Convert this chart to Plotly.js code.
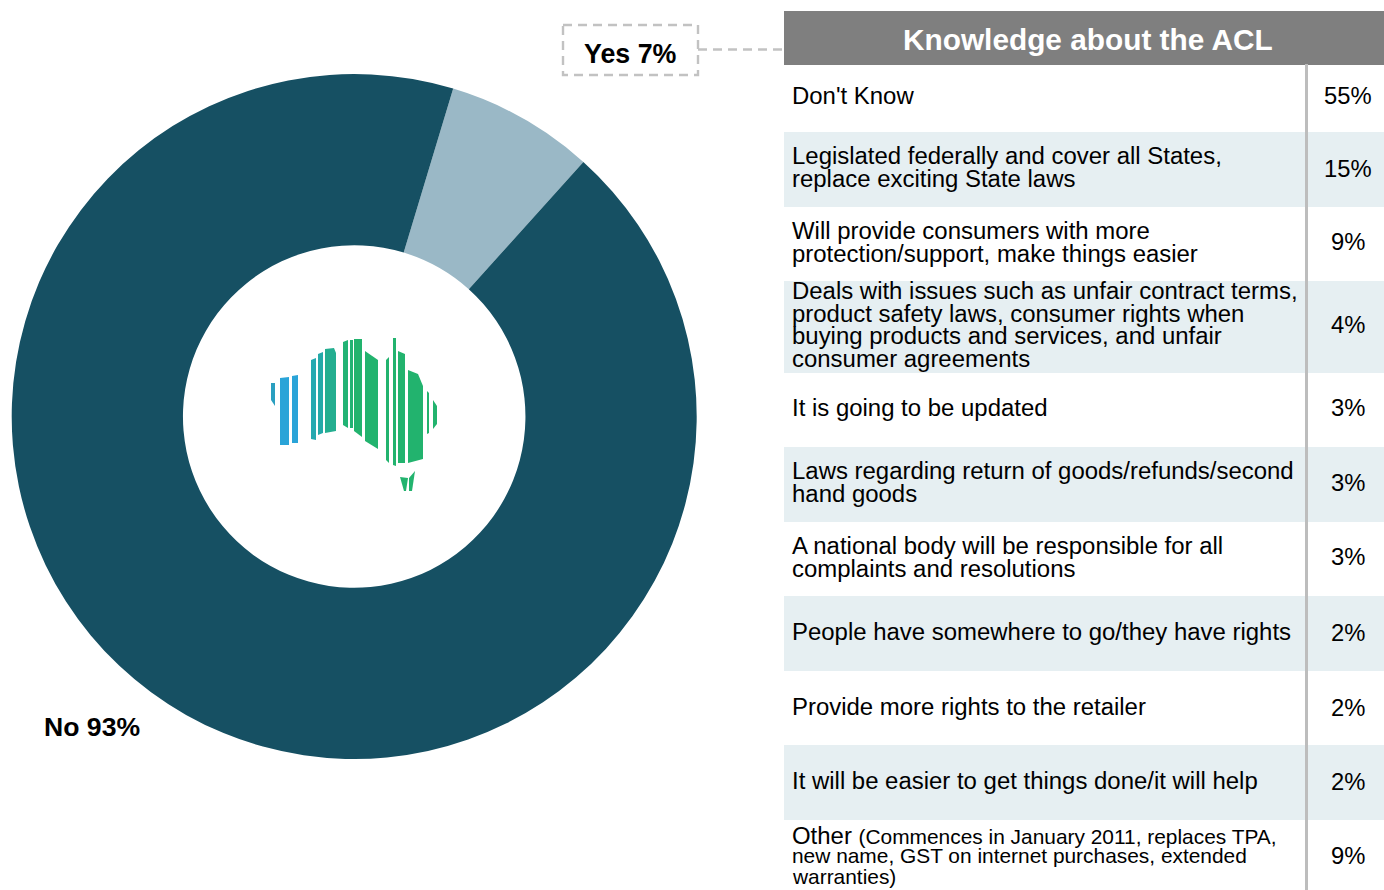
<!DOCTYPE html>
<html>
<head>
<meta charset="utf-8">
<script src="https://cdn.plot.ly/plotly-3.0.1.min.js"></script>
<style>html,body{margin:0;padding:0;background:#fff;overflow:hidden}#c{width:1384px;height:890px}</style>
</head>
<body>
<div id="c"></div>
<script>
// ---- data ----
var sliceLabels = ['Yes', 'No'];
var sliceValues = [7, 93];
var sliceColors = ['#9ab8c6', '#165063'];
var tableTitle = 'Knowledge about the ACL';
var rowLines = [
  ["Don't Know"],
  ['Legislated federally and cover all States,', 'replace exciting State laws'],
  ['Will provide consumers with more', 'protection/support, make things easier'],
  ['Deals with issues such as unfair contract terms,', 'product safety laws, consumer rights when', 'buying products and services, and unfair', 'consumer agreements'],
  ['It is going to be updated'],
  ['Laws regarding return of goods/refunds/second', 'hand goods'],
  ['A national body will be responsible for all', 'complaints and resolutions'],
  ['People have somewhere to go/they have rights'],
  ['Provide more rights to the retailer'],
  ['It will be easier to get things done/it will help'],
  ['Other <span style="font-size:20.9px">(Commences in January 2011, replaces TPA,</span>', '<span style="font-size:20.9px">new name, GST on internet purchases, extended</span>', '<span style="font-size:20.9px">warranties)</span>']
];
var rowPercents = ['55%', '15%', '9%', '4%', '3%', '3%', '3%', '2%', '2%', '2%', '9%'];

// ---- layout geometry (pixels) ----
var W = 1384, H = 890;
var rowEdges = [65, 132, 207, 281, 373, 447, 522, 596, 671, 745, 820, 890];
var lineGaps = [0, 23.5, 23.5, 22.8, 0, 23.2, 23, 0, 0, 0, 20.3];
var firstLineY = [96, 155.2, 230.2, 290.2, 408, 470.2, 545.2, 631.2, 706.2, 780.2, 835.4];
var percentY = [96, 168, 242, 324.6, 408, 482.4, 556.4, 632, 707, 781, 855.4];
var logoBars = [
  ['#2a9fc0', [[271,383],[275,383],[275,406],[271,400]]],
  ['#2aa4d8', [[280,378],[289,377],[289,445],[280,445]]],
  ['#2aa4d8', [[292,376],[298,375],[298,443],[292,443]]],
  ['#25a9b0', [[311,360],[316,358],[316,440],[311,439]]],
  ['#25a9a8', [[318,354],[323,352],[323,433],[318,435]]],
  ['#24ae90', [[325,349],[334,348],[336,353],[336,431],[325,433]]],
  ['#22b374', [[343,342],[348,340],[348,428],[343,425]]],
  ['#22b374', [[350,340],[353,340],[353,428],[350,428]]],
  ['#22b36e', [[354,339],[362,339],[362,437],[354,431]]],
  ['#22b36e', [[365,351],[378,360],[378,449],[365,441]]],
  ['#22b36e', [[386,360],[389,357],[389,463],[386,460]]],
  ['#22b36e', [[393,338],[396,338],[396,466],[393,465]]],
  ['#22b36e', [[398,351],[405,354],[405,463],[398,463]]],
  ['#22b36e', [[408,370],[418,374],[423,386],[423,459],[408,463]]],
  ['#22b36e', [[427,391],[429,393],[429,433],[427,434]]],
  ['#22b36e', [[433,400],[437,406],[437,424],[433,429]]],
  ['#22b36e', [[400,477],[408,478],[406,491],[404,491]]],
  ['#22b36e', [[409,478],[415,471],[412,491],[409,491]]]
];

// ---- helpers ----
function px(x) { return x / W; }
function py(y) { return 1 - y / H; }
function rect(x0, y0, x1, y1, fill) {
  return {type: 'rect', xref: 'paper', yref: 'paper', x0: px(x0), x1: px(x1), y0: py(y0), y1: py(y1),
          fillcolor: fill, line: {width: 0}, layer: 'below'};
}
function label(x, y, text, size, bold, color, anchor) {
  return {xref: 'paper', yref: 'paper', x: px(x), y: py(y), text: bold ? '<b>' + text + '</b>' : text,
          showarrow: false, xanchor: anchor || 'left', yanchor: 'middle', borderpad: 0, borderwidth: 0,
          font: {family: 'Liberation Sans, Arial, sans-serif', size: size, color: color || '#000'}};
}

var shapes = [], annotations = [];

// table
shapes.push(rect(784, 11, W, 65, '#7f7f7f'));
for (var i = 0; i < rowLines.length; i++) {
  if (i % 2 === 1) shapes.push(rect(784, rowEdges[i], W, rowEdges[i + 1], '#e6eff2'));
  for (var j = 0; j < rowLines[i].length; j++) {
    annotations.push(label(792, firstLineY[i] + j * lineGaps[i], rowLines[i][j], 23.95));
  }
  annotations.push(label(1348, percentY[i], rowPercents[i], 23.8, false, '#000', 'center'));
}
shapes.push({type: 'line', xref: 'paper', yref: 'paper', x0: px(1306.5), x1: px(1306.5), y0: py(64), y1: py(H),
             line: {color: '#bdbdbd', width: 3}});
annotations.push(label(1088, 39.2, tableTitle, 29.8, true, '#fff', 'center'));

// callout
var dash = {color: '#c2c2c2', width: 2.4, dash: '9px,6px'};
shapes.push({type: 'rect', xref: 'paper', yref: 'paper', x0: px(563), x1: px(698), y0: py(25), y1: py(75),
             line: dash, fillcolor: 'rgba(0,0,0,0)'});
shapes.push({type: 'line', xref: 'paper', yref: 'paper', x0: px(698), x1: px(784), y0: py(49.5), y1: py(49.5), line: dash});
annotations.push(label(630.5, 54, sliceLabels[0] + ' ' + sliceValues[0] + '%', 26.8, true, '#000', 'center'));
annotations.push(label(92, 727, sliceLabels[1] + ' ' + sliceValues[1] + '%', 26.6, true, '#000', 'center'));

// logo
logoBars.forEach(function (b) {
  var d = b[1].map(function (p, k) { return (k ? 'L' : 'M') + px(p[0]) + ',' + py(p[1]); }).join(' ') + ' Z';
  shapes.push({type: 'path', xref: 'paper', yref: 'paper', path: d, fillcolor: b[0], line: {width: 0}});
});

var data = [{
  type: 'pie',
  labels: sliceLabels,
  values: sliceValues,
  hole: 0.5,
  sort: false,
  direction: 'clockwise',
  rotation: 16.8,
  textinfo: 'none',
  hoverinfo: 'label+percent',
  marker: {colors: sliceColors, line: {width: 0}},
  domain: {x: [px(11.7), px(696.7)], y: [py(759), py(74)]},
  showlegend: false
}];

var layout = {
  width: W, height: H,
  margin: {l: 0, r: 0, t: 0, b: 0, pad: 0},
  paper_bgcolor: '#fff',
  showlegend: false,
  shapes: shapes,
  annotations: annotations
};

Plotly.newPlot('c', data, layout, {displayModeBar: false, responsive: false});
</script>
</body>
</html>
